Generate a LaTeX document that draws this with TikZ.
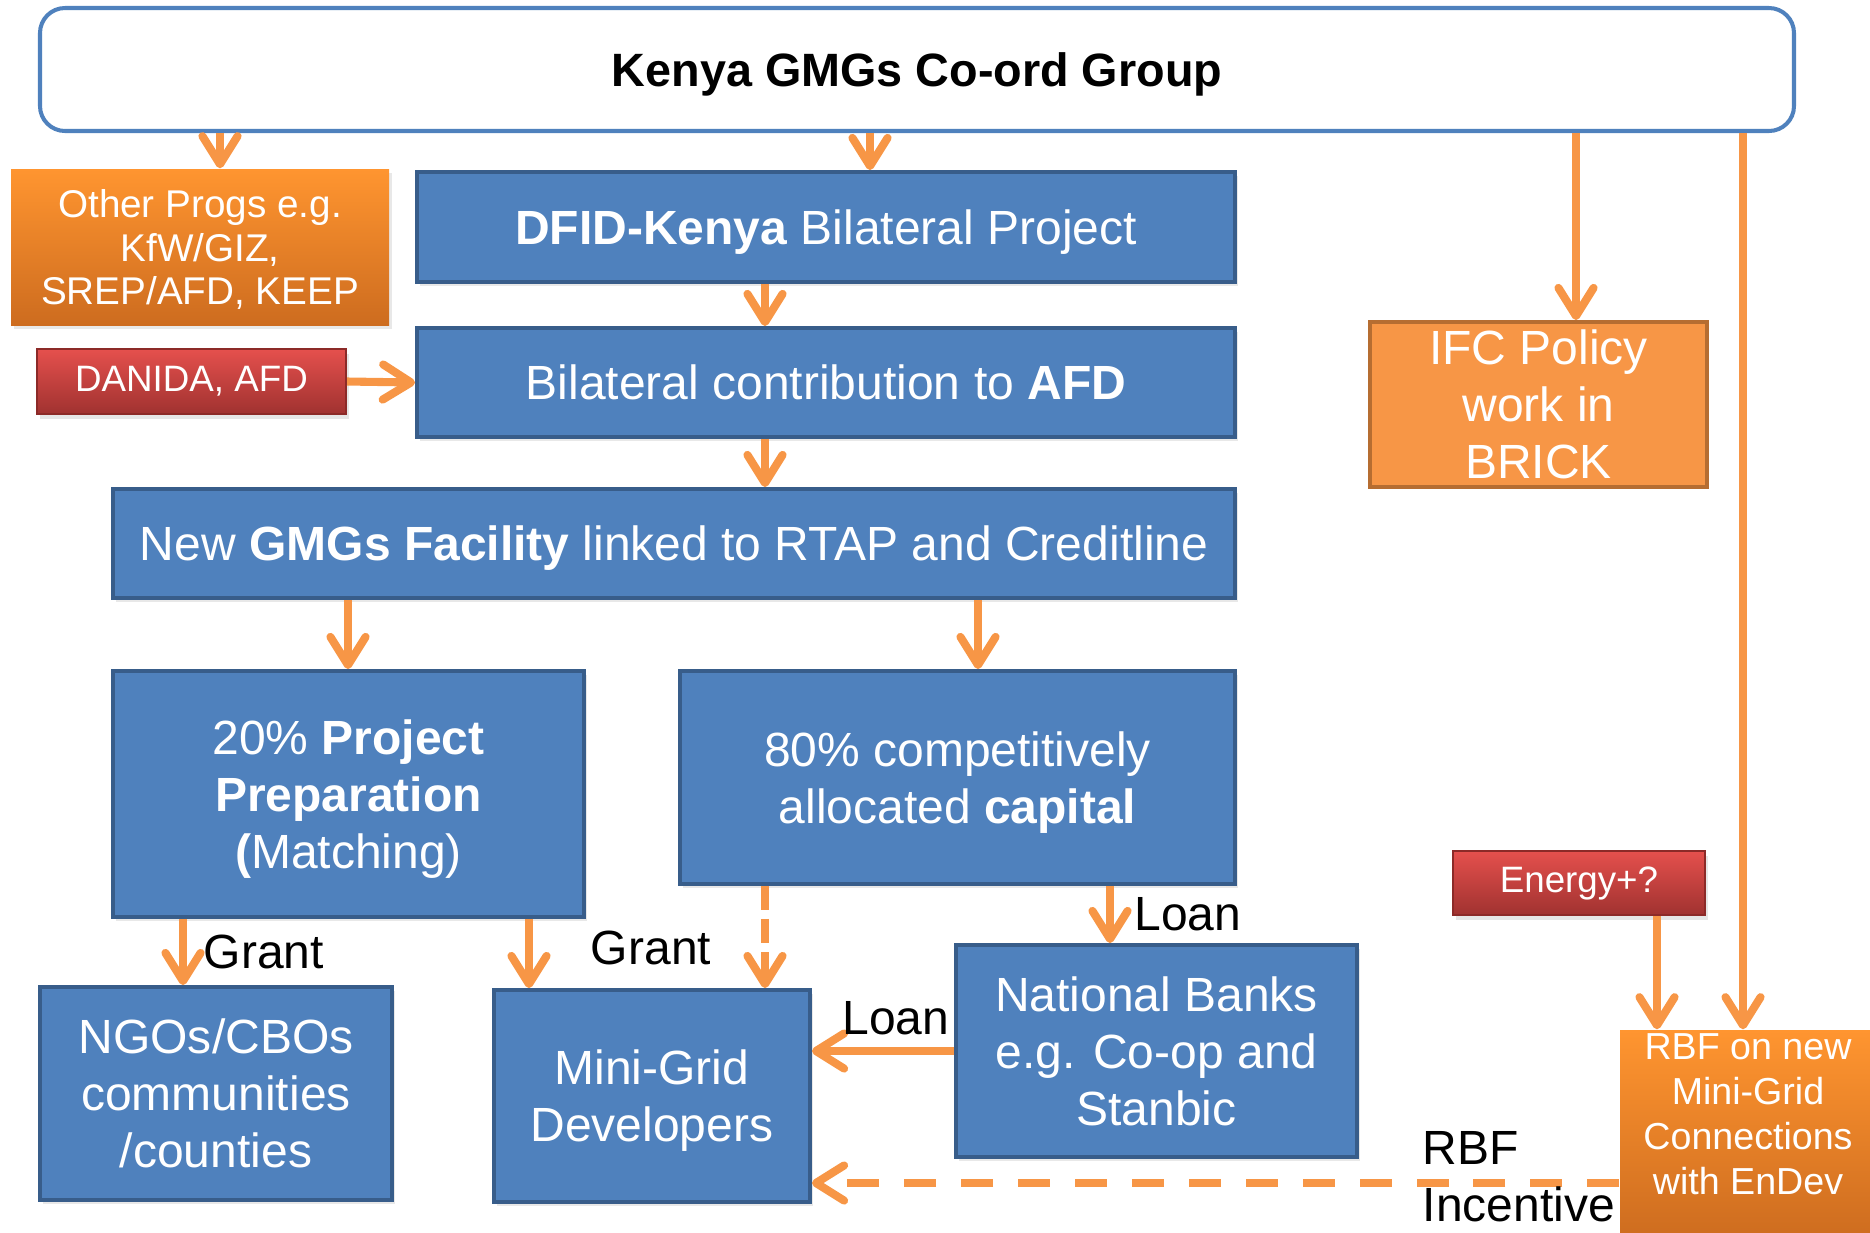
\documentclass[tikz,border=0pt]{standalone}
\usepackage{fontspec}
\setmainfont{Liberation Sans}
\usepackage{tikz}
\usetikzlibrary{arrows.meta}
\usetikzlibrary{shadows}

\definecolor{boxblue}{HTML}{4F81BD}
\definecolor{boxblueline}{HTML}{385D8A}
\definecolor{arroworange}{HTML}{F79646}
\definecolor{ifcline}{HTML}{B66D31}
\definecolor{progtop}{HTML}{FF9530}
\definecolor{progbot}{HTML}{CD6C1F}
\definecolor{redtop}{HTML}{E5504D}
\definecolor{redbot}{HTML}{A03230}
\definecolor{redline}{HTML}{8C2A28}

\newcommand{\fsmain}{\fontsize{13.66}{16.2}\selectfont}
\newcommand{\fstitle}{\fontsize{13.3}{16}\selectfont}
\newcommand{\fsprog}{\fontsize{11}{12.5}\selectfont}
\newcommand{\fsrbf}{\fontsize{10.7}{12.8}\selectfont}
\newcommand{\fsred}{\fontsize{10.45}{12.5}\selectfont}

\begin{document}
\begin{tikzpicture}[
    bluebox/.style={draw=boxblueline, line width=1.1pt, fill=boxblue, text=white,
        align=center, inner sep=0pt, text depth=0pt, font=\fsmain,
        drop shadow={opacity=0.18, shadow xshift=0.03cm, shadow yshift=-0.04cm}},
    progbox/.style={top color=progtop, bottom color=progbot, draw=none, text=white,
        align=center, inner sep=0pt, text depth=0pt,
        drop shadow={opacity=0.18, shadow xshift=0.03cm, shadow yshift=-0.04cm}},
    redbox/.style={top color=redtop, bottom color=redbot, draw=redline, line width=0.6pt,
        text=white, align=center, inner sep=0pt, font=\fsred,
        drop shadow={opacity=0.2, shadow xshift=0.03cm, shadow yshift=-0.05cm}},
    flow/.style={draw=arroworange, line width=2.3pt,
        -{Straight Barb[length=8pt,width=10pt,round]}},
    note/.style={font=\fsmain, text=black}
  ]
    \useasboundingbox (0,0) rectangle (18.70,-12.32);

    % boxes
    \node (top) [draw=boxblue, line width=1.15pt, fill=white, rounded corners=0.25cm,
        minimum width=17.54cm, minimum height=1.23cm, text depth=0pt,
        font=\fstitle\bfseries]
        at (9.17,-0.695) {Kenya GMGs Co-ord Group};
    \node (other) [progbox, font=\fsprog, minimum width=3.78cm, minimum height=1.56cm]
        at (2.00,-2.47) {Other Progs e.g.\\KfW/GIZ,\\SREP/AFD, KEEP};
    \node (dfid) [bluebox, minimum width=8.18cm, minimum height=1.10cm]
        at (8.26,-2.27) {\textbf{DFID-Kenya} Bilateral Project};
    \node (danida) [redbox, minimum width=3.09cm, minimum height=0.65cm]
        at (1.915,-3.815) {DANIDA, AFD};
    \node (bilat) [bluebox, minimum width=8.18cm, minimum height=1.09cm]
        at (8.26,-3.825) {Bilateral contribution to \textbf{AFD}};
    \node (ifc) [fill=arroworange, draw=ifcline, line width=1.1pt, text=white,
        align=center, inner sep=0pt, font=\fsmain,
        minimum width=3.37cm, minimum height=1.65cm]
        at (15.385,-4.045) {IFC Policy\\work in\\BRICK};
    \node (gmgs) [bluebox, minimum width=11.22cm, minimum height=1.09cm]
        at (6.74,-5.435) {New \textbf{GMGs Facility} linked to RTAP and Creditline};
    \node (prep) [bluebox, minimum width=4.71cm, minimum height=2.46cm]
        at (3.485,-7.94) {20\% \textbf{Project}\\\textbf{Preparation}\\\textbf{(}Matching)};
    \node (cap) [bluebox, minimum width=5.55cm, minimum height=2.13cm]
        at (9.575,-7.775) {80\% competitively\\allocated \textbf{capital}};
    \node (ngo) [bluebox, minimum width=3.52cm, minimum height=2.13cm]
        at (2.16,-10.935) {NGOs/CBOs\\communities\\/counties};
    \node (mgd) [bluebox, minimum width=3.16cm, minimum height=2.12cm]
        at (6.52,-10.96) {Mini-Grid\\Developers};
    \node (bank) [bluebox, minimum width=4.01cm, minimum height=2.12cm]
        at (11.565,-10.51) {National Banks\\e.g. Co-op and\\Stanbic};
    \node (energy) [redbox, minimum width=2.52cm, minimum height=0.64cm]
        at (15.79,-8.83) {Energy+?};
    \node (rbf) [progbox, font=\fsrbf, minimum width=2.56cm, minimum height=2.10cm,
        text depth=0.42cm]
        at (17.48,-11.35) {RBF on new\\Mini-Grid\\Connections\\with EnDev};

    % columns where the connectors run
    \coordinate (x1) at (2.20,0);
    \coordinate (x2) at (8.70,0);
    \coordinate (x3) at (7.65,0);
    \coordinate (x4) at (15.76,0);
    \coordinate (x5) at (17.43,0);
    \coordinate (x6) at (3.48,0);
    \coordinate (x7) at (9.78,0);
    \coordinate (x8) at (1.83,0);
    \coordinate (x9) at (5.29,0);
    \coordinate (x10) at (11.10,0);
    \coordinate (x11) at (16.57,0);
    \coordinate (y1) at (0,-11.83);

    % connectors
    \draw [flow] (top.south -| x1) -- (other.north -| x1);
    \draw [flow] (top.south -| x2) -- (dfid.north -| x2);
    \draw [flow] (top.south -| x4) -- (ifc.north -| x4);
    \draw [flow] (top.south -| x5) -- (rbf.north -| x5);
    \draw [flow] (dfid.south -| x3) -- (bilat.north -| x3);
    \draw [flow] (danida.east) -- (bilat.west);
    \draw [flow] (bilat.south -| x3) -- (gmgs.north -| x3);
    \draw [flow] (gmgs.south -| x6) -- (prep.north -| x6);
    \draw [flow] (gmgs.south -| x7) -- (cap.north -| x7);
    \draw [flow] (prep.south -| x8) -- node [note,right=1.4pt,midway] {Grant} (ngo.north -| x8);
    \draw [flow] (prep.south -| x9) -- (mgd.north -| x9);
    \draw [flow, dash pattern=on 6.8pt off 2.6pt] (cap.south -| x3) -- (mgd.north -| x3);
    \draw [flow] (cap.south -| x10) -- node [note,right=2.5pt,midway] {Loan} (bank.north -| x10);
    \draw [flow] (bank.west) -- node [note,above,pos=0.41] {Loan} (bank.west -| mgd.east);
    \draw [flow] (energy.south -| x11) -- (rbf.north -| x11);
    \draw [flow, dash pattern=on 9.1pt off 7.1pt] (rbf.west |- y1) -- (mgd.east |- y1);

    % labels
    \node (grant) [note] at (6.51,-9.48) {Grant};
    \node (incentive) [note, align=left, anchor=west, inner sep=0pt]
        at (14.22,-11.77) {RBF\\Incentive};
\end{tikzpicture}
\end{document}
